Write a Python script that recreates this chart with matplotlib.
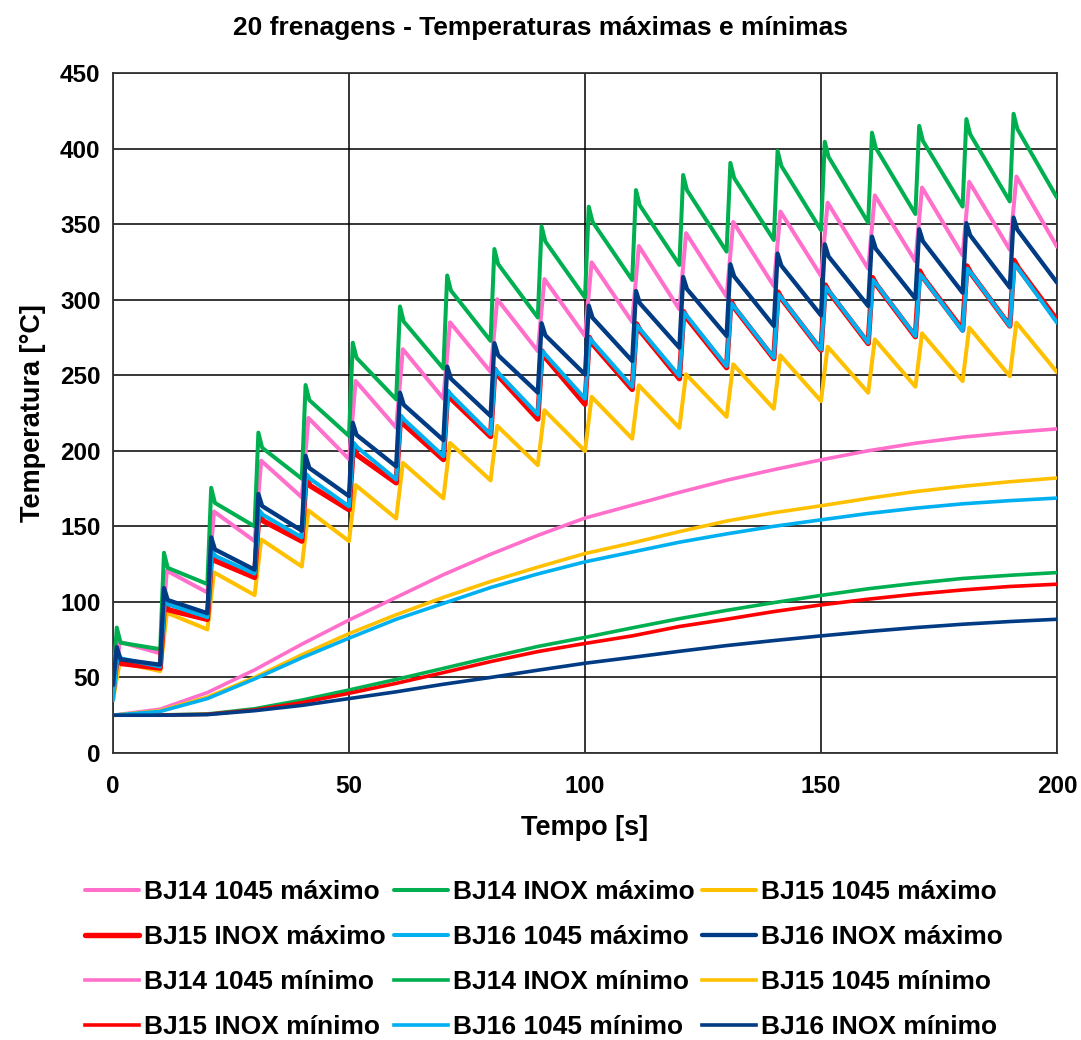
import numpy as np
import matplotlib
matplotlib.use("Agg")
import matplotlib.pyplot as plt

plt.rcParams['font.family'] = ['Liberation Sans', 'DejaVu Sans']
plt.rcParams['font.weight'] = 'bold'

# ---------------- data ----------------
period = 10.0  # s between brakings
n_cycles = 20

labels = [
    "BJ14 1045 máximo", "BJ14 INOX máximo", "BJ15 1045 máximo",
    "BJ15 INOX máximo", "BJ16 1045 máximo", "BJ16 INOX máximo",
    "BJ14 1045 mínimo", "BJ14 INOX mínimo", "BJ15 1045 mínimo",
    "BJ15 INOX mínimo", "BJ16 1045 mínimo", "BJ16 INOX mínimo",
]

# maxima: start value, peak per braking, value at end of each cycle, drop after peak
bj14_1045_max_start = 35
bj14_1045_max_peaks = [73.5, 120.6, 159.8, 193.4, 221.7, 246.2, 267.2, 285.0, 300.3, 313.6,
                       324.7, 335.5, 344.0, 351.4, 358.3, 364.2, 369.0, 374.2, 378.0, 381.5]
bj14_1045_max_ends = [66.0, 106.2, 140.2, 169.2, 194.5, 215.3, 234.5, 252.2, 266.0, 276.0,
                      285.2, 293.6, 302.0, 309.0, 315.7, 320.5, 325.4, 329.4, 333.0, 335.1]
bj14_1045_max_drop = 0

bj14_inox_max_start = 45
bj14_inox_max_peaks = [83.0, 132.5, 175.5, 212.0, 243.5, 271.5, 295.5, 316.0, 333.5, 348.5,
                       361.5, 372.5, 382.5, 390.5, 398.5, 404.5, 410.5, 415.0, 419.5, 423.0]
bj14_inox_max_ends = [68.7, 111.8, 150.0, 181.5, 209.8, 234.0, 254.4, 272.7, 288.2, 301.4,
                      313.0, 323.0, 331.8, 339.5, 346.0, 351.0, 356.7, 361.6, 365.0, 367.5]
bj14_inox_max_drop = 10

bj15_1045_max_start = 35
bj15_1045_max_peaks = [60.0, 92.8, 119.5, 141.3, 160.5, 177.3, 192.0, 205.2, 216.5, 226.8,
                       235.7, 243.3, 250.6, 257.2, 263.1, 268.9, 273.7, 277.7, 281.5, 284.8]
bj15_1045_max_ends = [54.2, 81.8, 104.5, 123.4, 140.2, 155.2, 168.5, 180.4, 190.5, 199.8,
                      208.0, 215.2, 222.5, 227.8, 232.9, 238.4, 242.4, 246.1, 249.4, 252.0]
bj15_1045_max_drop = 0

bj15_inox_max_start = 40
bj15_inox_max_peaks = [64.2, 99.7, 132.0, 158.6, 181.8, 202.0, 222.0, 239.0, 254.0, 266.0,
                       275.0, 284.0, 292.0, 299.0, 305.0, 309.7, 314.6, 319.0, 322.3, 326.0]
bj15_inox_max_ends = [56.2, 88.4, 116.2, 140.2, 161.0, 178.8, 194.2, 209.4, 221.0, 230.8,
                      240.6, 247.7, 255.0, 261.0, 266.6, 271.0, 275.5, 280.0, 282.6, 286.5]
bj15_inox_max_drop = 5

bj16_1045_max_start = 35
bj16_1045_max_peaks = [65.5, 101.2, 133.2, 160.5, 184.4, 205.2, 223.3, 239.6, 254.0, 266.0,
                       274.5, 283.0, 291.4, 297.6, 303.5, 308.3, 313.0, 316.8, 320.5, 323.4]
bj16_1045_max_ends = [57.2, 89.9, 118.7, 142.7, 163.2, 181.0, 196.4, 211.0, 224.0, 234.5,
                      242.4, 249.4, 256.0, 261.6, 267.0, 271.5, 276.0, 279.3, 282.6, 284.8]
bj16_1045_max_drop = 3

bj16_inox_max_start = 45
bj16_inox_max_peaks = [70.0, 109.2, 142.7, 171.4, 196.6, 218.5, 238.4, 255.7, 271.2, 284.4,
                       296.0, 305.7, 315.0, 323.4, 330.5, 336.6, 341.7, 346.6, 350.6, 354.3]
bj16_inox_max_ends = [58.4, 92.5, 121.3, 147.1, 170.0, 189.6, 207.0, 223.0, 238.5, 250.5,
                      259.4, 268.2, 276.0, 282.6, 289.6, 295.8, 300.7, 304.6, 308.0, 311.3]
bj16_inox_max_drop = 8

# minima, sampled every 10 s from 0 to 200 s
min_time = list(range(0, 201, 10))
bj14_1045_min = [25.0, 29.0, 40.0, 55.0, 72.0, 88.0, 103.0, 118.0, 131.5, 144.0, 155.5,
                 164.0, 172.5, 180.5, 187.5, 194.0, 200.0, 205.0, 209.0, 212.0, 214.5]
bj14_inox_min = [25.0, 25.2, 25.8, 29.3, 35.0, 41.7, 48.7, 56.0, 63.4, 70.5, 76.5,
                 82.8, 88.9, 94.4, 99.5, 104.3, 108.7, 112.3, 115.5, 117.6, 119.4]
bj15_1045_min = [25.0, 28.0, 37.0, 50.0, 65.0, 79.0, 91.5, 103.0, 113.5, 123.0, 132.0,
                 139.0, 146.5, 153.5, 159.0, 163.6, 168.5, 173.0, 176.5, 179.5, 182.0]
bj15_inox_min = [25.0, 25.1, 25.6, 28.5, 33.3, 39.5, 46.1, 53.2, 60.5, 67.1, 72.5,
                 77.5, 83.7, 88.5, 93.6, 98.0, 101.8, 105.1, 107.9, 110.2, 111.7]
bj16_1045_min = [25.0, 27.5, 36.0, 49.0, 63.0, 76.0, 88.5, 99.0, 109.5, 118.5, 126.5,
                 133.0, 139.5, 145.0, 150.0, 154.3, 158.5, 162.0, 164.9, 167.0, 168.7]
bj16_inox_min = [25.0, 25.0, 25.4, 28.0, 31.5, 36.0, 40.5, 45.5, 50.0, 54.8, 59.4,
                 63.3, 67.3, 71.1, 74.4, 77.5, 80.4, 83.0, 85.2, 87.0, 88.5]

x_ticks = [0, 50, 100, 150, 200]
y_ticks = [0, 50, 100, 150, 200, 250, 300, 350, 400, 450]

# ---------------- styles ----------------
colors = ["#FF6FCB", "#00B050", "#FFC000", "#FF0000", "#00B0F0", "#003B84"]
max_lw = [2.9, 2.9, 2.9, 3.9, 2.9, 3.1]
min_lw = 2.6
# (time of peak, time of shoulder) after each braking start
max_shape = [(1.4, 1.4), (0.8, 1.6), (1.4, 1.4), (0.9, 1.8), (1.0, 1.8), (0.8, 1.6)]


def sawtooth(start, peaks, ends, drop, shape):
    tp, ts = shape
    t = [0.0]
    v = [start]
    prev = start
    for k in range(n_cycles):
        t0 = k * period
        if k > 0:
            t.append(t0)
            v.append(prev)
        t.append(t0 + tp)
        v.append(peaks[k])
        if ts > tp:
            t.append(t0 + ts)
            v.append(peaks[k] - drop)
        t.append(t0 + period)
        v.append(ends[k])
        prev = ends[k]
    return t, v


max_series = [
    (bj14_1045_max_start, bj14_1045_max_peaks, bj14_1045_max_ends, bj14_1045_max_drop),
    (bj14_inox_max_start, bj14_inox_max_peaks, bj14_inox_max_ends, bj14_inox_max_drop),
    (bj15_1045_max_start, bj15_1045_max_peaks, bj15_1045_max_ends, bj15_1045_max_drop),
    (bj15_inox_max_start, bj15_inox_max_peaks, bj15_inox_max_ends, bj15_inox_max_drop),
    (bj16_1045_max_start, bj16_1045_max_peaks, bj16_1045_max_ends, bj16_1045_max_drop),
    (bj16_inox_max_start, bj16_inox_max_peaks, bj16_inox_max_ends, bj16_inox_max_drop),
]
min_series = [bj14_1045_min, bj14_inox_min, bj15_1045_min,
              bj15_inox_min, bj16_1045_min, bj16_inox_min]

fig = plt.figure(figsize=(10.81, 10.40), dpi=100)
ax = fig.add_axes([113 / 1081, 1 - 753 / 1040, (1057 - 113) / 1081, (753 - 73) / 1040])

handles = []
for i, (s, p, e, d) in enumerate(max_series):
    t, v = sawtooth(s, p, e, d, max_shape[i])
    h, = ax.plot(t, v, color=colors[i], lw=max_lw[i], solid_joinstyle='round',
                 solid_capstyle='round', label=labels[i], zorder=3)
    handles.append(h)
for i, vals in enumerate(min_series):
    h, = ax.plot(min_time, vals, color=colors[i], lw=min_lw, solid_joinstyle='round',
                 label=labels[6 + i], zorder=3)
    handles.append(h)

ax.set_xlim(0, 200)
ax.set_ylim(0, 450)
ax.set_xticks(x_ticks)
ax.set_yticks(y_ticks)
ax.tick_params(axis='both', length=0, labelsize=17.5)
ax.tick_params(axis='y', pad=9)
ax.tick_params(axis='x', pad=16)
for lab in ax.get_xticklabels() + ax.get_yticklabels():
    lab.set_fontweight('bold')
ax.grid(True, color='black', lw=1.1, zorder=1)
for sp in ax.spines.values():
    sp.set_color('#333333')
    sp.set_linewidth(1.3)

ax.set_xlabel("Tempo [s]", fontsize=19.5, fontweight='bold', labelpad=12)
ax.set_ylabel("Temperatura [°C]", fontsize=19.5, fontweight='bold', labelpad=10)
fig.text(0.5, 1 - 28 / 1040, "20 frenagens - Temperaturas máximas e mínimas",
         ha='center', va='center', fontsize=19, fontweight='bold')

order = [0, 3, 6, 9, 1, 4, 7, 10, 2, 5, 8, 11]
leg = fig.legend([handles[i] for i in order], [labels[i] for i in order],
                 ncol=3, loc='upper left', bbox_to_anchor=(85 / 1081, 1 - 880 / 1040),
                 frameon=False, fontsize=19, handlelength=2.05, handletextpad=0.2,
                 columnspacing=0.28, labelspacing=0.8, borderaxespad=0, borderpad=0)
for txt in leg.get_texts():
    txt.set_fontweight('bold')

fig.savefig("out.png", dpi=100)
